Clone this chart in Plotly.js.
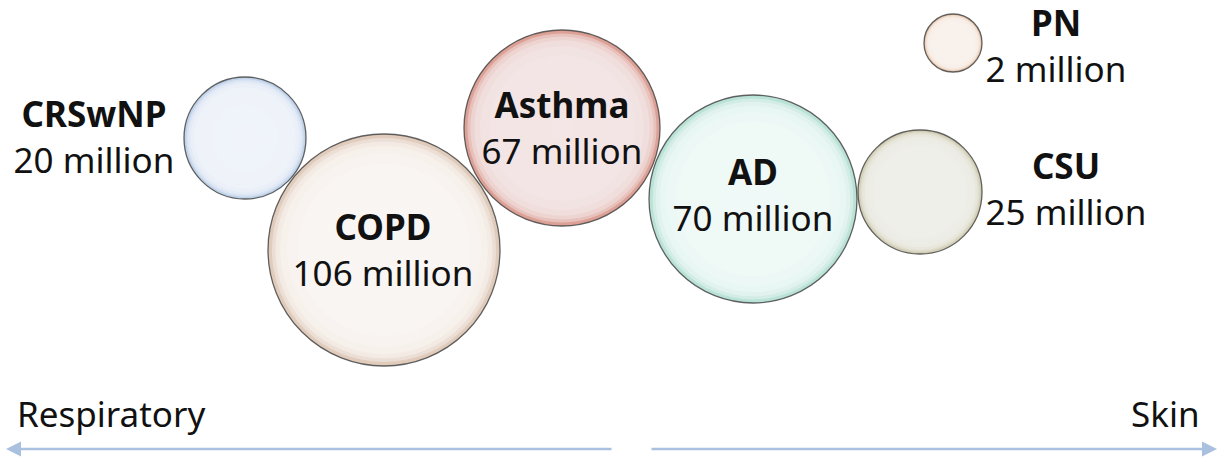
<!DOCTYPE html>
<html>
<head>
<meta charset="utf-8">
<script src="https://cdn.plot.ly/plotly-3.0.1.min.js"></script>
<style>html,body{margin:0;padding:0;background:#fff;}#chart{width:1221px;height:459px;}</style>
</head>
<body>
<div id="chart"></div>
<script>
// ---- data ----
var diseases = ["CRSwNP", "COPD", "Asthma", "AD", "CSU", "PN"];
var patientsMillion = [20, 106, 67, 70, 25, 2];
var axisLabels = ["Respiratory", "Skin"];

// ---- placement & styling (not data) ----
var bubbleX = [245, 384, 562, 753, 920, 953];
var bubbleY = [138, 250, 128, 199, 192, 43];
var bubbleDiameter = [122, 232, 196, 208, 124, 58];
var labelX = [94, 383, 562, 753, 1066, 1056];
var labelY = [141, 254, 132, 199, 193, 50];
var rimColor = ["#c0d2ea", "#e0cbbb", "#dc9f94", "#b9e2d6", "#d3cfb6", "#eac8ad"];
var coreColor = ["#f0f4fa", "#f9f5f2", "#f3e6e6", "#eff9f7", "#efefea", "#f9f2ed"];

var labels = diseases.map(function (d, i) {
  return "<b>" + d + "</b><br>" + patientsMillion[i] + " million";
});

var rimTrace = {
  type: "scatter", mode: "markers", x: bubbleX, y: bubbleY,
  hoverinfo: "skip",
  marker: {
    size: bubbleDiameter, sizemode: "diameter", opacity: 1,
    color: rimColor,
    gradient: {type: "radial", color: coreColor},
    line: {color: "rgba(70,70,70,0.85)", width: 1.3}
  }
};
function coreLayer(scale, alpha) {
  return {
    type: "scatter", mode: "markers", x: bubbleX, y: bubbleY,
    hoverinfo: "skip",
    marker: {
      size: bubbleDiameter.map(function (d) { return d * scale - 1; }), sizemode: "diameter",
      color: coreColor, opacity: alpha,
      line: {width: 0}
    }
  };
}
var textTrace = {
  type: "scatter", mode: "text", x: labelX, y: labelY, text: labels,
  textposition: "middle center", hoverinfo: "skip",
  textfont: {family: "Noto Sans, sans-serif", size: 35, color: "#111"}
};

var arrowColor = "#a9c1df";
var layout = {
  width: 1221, height: 459,
  margin: {l: 0, r: 0, t: 0, b: 0},
  paper_bgcolor: "#fff", plot_bgcolor: "#fff",
  showlegend: false,
  xaxis: {range: [0, 1221], visible: false, fixedrange: true},
  yaxis: {range: [459, 0], visible: false, fixedrange: true},
  annotations: [
    {x: 15, y: 413, xref: "x", yref: "y", text: axisLabels[0], showarrow: false,
     xanchor: "left", yanchor: "middle", font: {family: "Noto Sans, sans-serif", size: 35, color: "#111"}},
    {x: 1202, y: 413, xref: "x", yref: "y", text: axisLabels[1], showarrow: false,
     xanchor: "right", yanchor: "middle", font: {family: "Noto Sans, sans-serif", size: 35, color: "#111"}},
    {x: 6, y: 449, ax: 613, ay: 449, xref: "x", yref: "y", axref: "x", ayref: "y", text: "",
     showarrow: true, arrowhead: 2, arrowsize: 1.2, arrowwidth: 2.5, arrowcolor: arrowColor, standoff: 0},
    {x: 1217, y: 449, ax: 650, ay: 449, xref: "x", yref: "y", axref: "x", ayref: "y", text: "",
     showarrow: true, arrowhead: 2, arrowsize: 1.2, arrowwidth: 2.5, arrowcolor: arrowColor, standoff: 0}
  ]
};

Plotly.newPlot("chart",
  [rimTrace, coreLayer(0.97, 0.45), coreLayer(0.94, 0.5), coreLayer(0.9, 0.55), coreLayer(0.84, 0.6), coreLayer(0.75, 0.7), textTrace],
  layout, {staticPlot: true, displayModeBar: false});
</script>
</body>
</html>
